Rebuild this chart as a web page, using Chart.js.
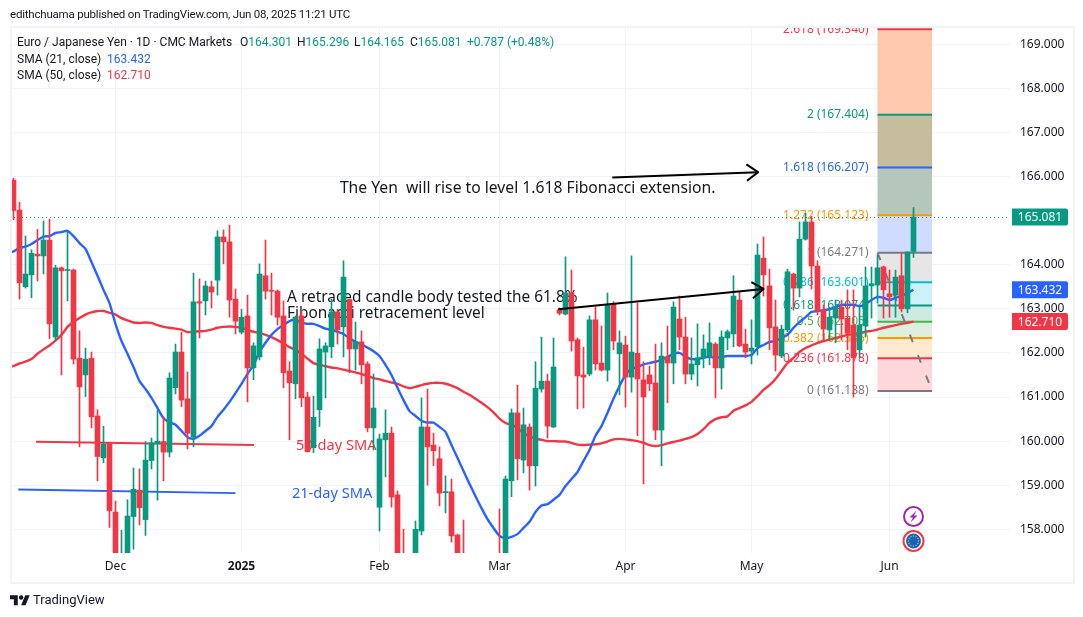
<!DOCTYPE html>
<html>
<head>
<meta charset="utf-8">
<style>
html,body{margin:0;padding:0;background:#fff;width:1083px;height:617px;overflow:hidden;}
#wrap{position:relative;width:1083px;height:617px;font-family:Roboto,sans-serif;font-size:12px;color:#131722;}
#frame{position:absolute;left:10px;top:26px;width:1061px;height:554px;border:2px solid #f0f3fa;pointer-events:none;}
canvas{position:absolute;left:0;top:0;}
.t{position:absolute;white-space:pre;line-height:16px;z-index:3;}
.g{color:#089981}.b{color:#2962ff}.r{color:#f23645}
</style>
</head>
<body>
<div id="wrap">
<canvas id="c" width="1083" height="617"></canvas>
<div id="frame"></div>
<div class="t" style="left:10px;top:6px;font-size:11.5px;letter-spacing:-0.2px;">edithchuama published on TradingView.com, Jun 08, 2025 11:21 UTC</div>
<div class="t" style="left:17px;top:34px;">Euro / Japanese Yen · 1D · CMC Markets</div>
<div class="t" style="left:240px;top:34px;">O<span class="g">164.301</span></div>
<div class="t" style="left:297px;top:34px;">H<span class="g">165.296</span></div>
<div class="t" style="left:354px;top:34px;">L<span class="g">164.165</span></div>
<div class="t" style="left:410px;top:34px;">C<span class="g">165.081</span></div>
<div class="t g" style="left:467px;top:34px;">+0.787 (+0.48%)</div>
<div class="t" style="left:17px;top:51px;">SMA (21, close)</div>
<div class="t b" style="left:107px;top:51px;">163.432</div>
<div class="t" style="left:17px;top:67px;">SMA (50, close)</div>
<div class="t r" style="left:107px;top:67px;">162.710</div>
<svg style="position:absolute;left:10px;top:593px;" width="20" height="14" viewBox="0 0 36 25"><path fill="#131722" d="M14 22H7V11H0V4h14v18zM28 22h-8l7.5-18h8L28 22z"/><circle fill="#131722" cx="20" cy="8" r="4"/></svg>
<div class="t" style="left:33px;top:592px;font-size:13px;">TradingView</div>
</div>
<script src="https://cdn.jsdelivr.net/npm/chart.js@4/dist/chart.umd.min.js"></script>
<script>
const opens=[
165.92,165.24,163.50,163.77,164.24,164.20,164.56,162.36,163.93,163.87,
163.88,161.88,161.50,161.88,160.57,159.62,159.96,158.39,157.03,157.03,
158.29,158.89,158.22,159.56,159.94,159.99,159.75,161.21,162.02,160.96,
160.09,163.16,163.18,163.50,163.65,164.63,164.52,163.22,162.47,162.84,
161.66,161.91,163.75,163.42,163.40,162.84,161.59,161.30,162.84,161.00,
159.85,160.71,162.02,162.14,162.93,162.59,163.21,162.09,162.25,161.75,
160.30,158.50,160.03,160.18,158.78,157.30,157.08,156.96,157.96,160.32,
159.91,159.60,158.83,158.85,157.87,157.30,157.10,157.25,156.90,157.20,
156.95,157.30,156.96,159.10,160.64,159.57,160.32,159.44,161.18,161.36,
160.32,162.98,162.88,163.36,162.30,161.50,161.52,162.75,161.77,161.61,
163.11,161.98,162.18,161.45,161.99,161.39,161.50,161.32,160.25,161.91,
161.77,162.77,162.36,161.52,161.73,161.89,161.93,162.20,161.66,162.34,
162.43,163.20,162.20,162.04,162.14,164.15,163.52,162.59,161.93,162.52,
163.79,163.47,164.58,164.97,163.97,162.97,162.52,162.79,163.04,162.79,
162.63,162.07,162.61,163.52,163.54,163.95,163.34,163.31,163.75,163.00,
164.301];
const highs=[
165.96,165.42,164.65,164.34,164.80,164.99,165.03,163.99,163.95,164.77,
163.90,162.50,162.11,162.02,160.71,160.34,159.96,158.64,157.98,158.67,
159.39,159.37,159.99,160.07,160.71,160.55,161.55,162.20,162.47,161.57,
163.81,163.68,163.63,163.63,164.77,164.79,164.90,163.45,162.99,163.31,
162.23,164.02,164.56,163.81,163.43,163.18,161.80,162.84,162.97,161.11,
161.02,162.32,162.23,163.22,162.99,164.09,163.22,162.70,162.50,161.80,
161.52,160.16,160.71,160.32,158.87,158.00,157.20,158.19,160.98,161.18,
160.18,159.87,159.21,159.14,157.89,158.21,157.30,157.35,157.30,157.30,
157.10,158.46,159.21,160.73,161.27,160.75,160.39,161.80,162.36,161.52,
162.34,163.02,164.18,163.88,162.34,162.13,162.84,163.04,162.61,163.36,
163.16,162.50,162.38,164.20,163.13,161.80,161.70,162.20,162.23,162.61,
163.16,163.29,162.81,162.34,162.66,162.41,162.68,162.23,162.50,162.52,
163.75,163.38,162.54,162.75,164.47,164.63,163.90,163.20,162.63,163.90,
163.81,164.97,165.17,165.10,164.09,163.09,163.04,163.20,163.20,163.43,
163.43,163.04,163.95,163.95,164.22,163.97,163.88,163.88,164.27,164.29,
165.296];
const lows=[
165.02,163.22,163.47,163.25,163.63,163.79,162.32,162.27,161.50,163.18,
161.75,159.87,161.01,160.30,159.10,159.51,158.04,156.85,156.74,156.85,
157.55,158.10,157.86,159.37,158.66,159.10,159.64,161.07,160.78,159.82,
159.87,162.34,162.86,163.02,163.31,164.02,162.81,162.43,162.43,160.89,
161.39,161.84,163.22,162.86,162.63,161.21,160.03,160.96,160.78,159.75,
159.74,160.33,160.98,161.89,162.20,161.91,161.55,161.61,161.30,160.21,
159.80,157.96,159.19,158.50,156.85,156.74,156.60,156.85,157.87,159.00,
159.44,158.53,158.37,157.71,156.74,156.70,156.80,156.90,156.70,156.85,
156.70,156.70,156.85,158.74,159.12,159.28,158.89,158.98,161.11,160.07,
160.31,162.86,162.86,162.04,160.73,160.75,161.48,161.61,161.59,161.36,
162.07,161.05,160.77,161.11,160.12,159.03,161.14,160.03,159.44,160.87,
161.30,162.07,161.30,161.39,161.25,161.66,161.73,160.98,161.18,162.07,
162.14,162.14,161.89,161.75,161.95,163.29,162.07,161.59,161.89,162.48,
162.97,163.27,164.56,163.45,162.86,162.25,162.29,162.23,162.29,162.07,
161.00,161.89,162.36,162.79,163.13,162.79,162.81,162.81,162.93,162.91,
164.165];
const closes=[
165.23,163.59,163.79,164.26,164.20,164.56,162.66,163.93,163.86,163.88,
161.86,161.23,161.86,160.55,159.65,159.93,158.42,157.08,157.35,158.30,
158.91,158.49,159.57,159.96,160.00,159.75,161.43,162.02,160.93,160.18,
163.16,163.13,163.52,163.38,164.63,164.52,163.20,162.72,162.81,161.66,
162.16,163.79,163.40,163.40,162.81,161.55,161.32,162.81,160.98,159.76,
160.54,162.09,162.16,162.93,162.52,163.72,162.09,162.25,161.73,160.30,
160.75,160.05,160.18,158.73,157.08,156.96,156.85,158.00,160.32,159.87,
159.78,158.82,158.85,157.85,156.96,156.96,156.95,156.95,157.15,157.00,
157.20,156.96,159.14,160.64,159.60,160.37,159.44,161.20,161.36,160.34,
161.68,162.90,163.36,162.27,161.48,161.45,162.75,161.75,161.61,163.09,
162.27,162.23,161.45,162.02,161.41,161.00,161.30,160.25,161.93,161.77,
163.04,162.36,161.52,161.75,161.89,162.09,162.23,161.66,162.36,162.48,
163.29,162.16,162.02,162.11,164.22,163.77,162.57,161.95,162.54,163.84,
163.47,164.58,164.97,163.97,162.95,162.54,162.81,163.04,162.77,162.45,
161.89,162.63,163.52,163.57,163.93,163.43,163.27,163.72,163.00,164.29,
165.081];
const sma21=[
164.30,164.38,164.41,164.47,164.56,164.64,164.65,164.72,164.74,164.77,
164.65,164.49,164.36,164.06,163.75,163.43,163.13,162.66,162.27,161.98,
161.68,161.36,161.18,160.98,160.75,160.52,160.43,160.37,160.23,160.09,
160.05,160.12,160.23,160.34,160.55,160.71,160.89,161.09,161.30,161.52,
161.73,162.02,162.23,162.41,162.54,162.63,162.72,162.75,162.68,162.66,
162.66,162.61,162.55,162.52,162.48,162.43,162.33,162.25,162.19,162.12,
162.04,161.93,161.73,161.50,161.21,160.93,160.68,160.57,160.46,160.42,
160.42,160.32,160.21,159.91,159.62,159.32,159.03,158.75,158.48,158.23,
158.03,157.85,157.80,157.83,157.89,158.03,158.17,158.39,158.54,158.57,
158.67,158.78,158.98,159.14,159.30,159.55,159.80,160.12,160.34,160.64,
160.96,161.25,161.50,161.64,161.68,161.74,161.77,161.80,161.84,161.91,
161.98,162.00,161.91,161.86,161.86,161.89,161.91,161.89,161.91,161.93,
161.93,161.93,161.93,161.95,162.11,162.18,162.25,162.27,162.34,162.41,
162.57,162.70,162.81,162.93,162.95,162.97,162.99,163.04,163.09,163.09,
163.09,163.06,163.11,163.20,163.27,163.25,163.20,163.25,163.29,163.36,
163.432];
const sma50=[
161.70,161.76,161.80,161.86,161.98,162.08,162.17,162.28,162.41,162.59,
162.70,162.79,162.87,162.92,162.95,162.95,162.91,162.87,162.79,162.74,
162.69,162.68,162.69,162.68,162.63,162.59,162.57,162.55,162.53,162.47,
162.48,162.49,162.50,162.53,162.57,162.59,162.60,162.59,162.57,162.52,
162.48,162.45,162.41,162.36,162.29,162.21,162.13,162.07,161.98,161.87,
161.77,161.73,161.70,161.67,161.65,161.62,161.59,161.56,161.52,161.48,
161.43,161.40,161.36,161.33,161.30,161.24,161.20,161.23,161.27,161.30,
161.32,161.32,161.30,161.26,161.20,161.12,161.05,160.96,160.87,160.77,
160.65,160.51,160.41,160.37,160.30,160.18,160.11,160.06,160.03,160.00,
160.00,159.99,159.99,159.96,159.92,159.91,159.92,159.93,159.95,159.99,
160.04,160.05,160.04,160.02,160.00,159.96,159.91,159.89,159.91,159.95,
159.98,160.01,160.05,160.09,160.16,160.27,160.41,160.50,160.54,160.56,
160.69,160.75,160.81,160.89,161.02,161.16,161.27,161.41,161.59,161.77,
161.89,162.02,162.11,162.17,162.23,162.27,162.30,162.34,162.37,162.41,
162.43,162.45,162.48,162.50,162.53,162.57,162.60,162.63,162.66,162.68,
162.710];
const sma21Before=164.26, sma50Before=161.67;
const monthTickIdx=[17,38,61,81,102,123,146];
const monthLabels=["Dec","2025","Feb","Mar","Apr","May","Jun"];
const priceTicks=[158,159,160,161,162,163,164,165,166,167,168,169];
const fibRatios=["2.618","2","1.618","1.272","1","0.786","0.618","0.5","0.382","0.236","0"];
const fibPrices=[169.340,167.404,166.207,165.123,164.271,163.601,163.074,162.705,162.336,161.878,161.138];
const fibLineColors=["#f23645","#089981","#2962ff","#ff9800","#787b86","#00bcd4","#089981","#4caf50","#ff9800","#f23645","#787b86"];
const fibFillColors=["#ffc9ae","#c6bd9e","#b5c6bc","#d0dcff","#e6e6e6","#ccf2f7","#cfe9e3","#dcf0dd","#ffeacf","#fdd7da"];
const fibStartIdx=144, fibEndIdx=153.1;
const trend50=[[3.75,159.985],[40.1,159.91]];
const trend21=[[0.8,158.90],[37,158.82]];
const arrows=[[99.8,165.98,124.1,166.10],[90.8,162.99,125,163.45]];
const notes=[
 ["The Yen  will rise to level 1.618 Fibonacci extension.",54.4,165.63,"#131722",15.7],
 ["A retraced candle body tested the 61.8%",45.6,163.16,"#131722",15.4],
 ["Fibonacci retracement level",45.6,162.80,"#131722",15.4],
 ["50-day SMA",47.1,159.80,"#f23645",14.6],
 ["21-day SMA",46.4,158.70,"#2962ff",14.6]
];
const priceTags=[[165.081,"#089981"],[163.432,"#2962ff"],[162.710,"#f23645"]];

const UP="#089981",DOWN="#f23645",FONT='"Noto Sans", sans-serif';
const idx=opens.map((_,i)=>i);
const col=idx.map(i=>closes[i]>=opens[i]?UP:DOWN);

const decor={
 id:"decor",
 beforeDatasetsDraw(ch){
  const c=ch.ctx,x=ch.scales.x,y=ch.scales.y,a=ch.chartArea;
  c.save();
  c.beginPath();c.rect(a.left,a.top,a.right-a.left,a.bottom-a.top);c.clip();
  const xl=x.getPixelForValue(fibStartIdx),xr=x.getPixelForValue(fibEndIdx);
  fibFillColors.forEach((f,i)=>{
    const t=y.getPixelForValue(fibPrices[i]),b=y.getPixelForValue(fibPrices[i+1]);
    c.fillStyle=f;c.fillRect(xl,t,xr-xl,b-t);
  });
  c.font="12px "+FONT;c.textAlign="right";c.textBaseline="middle";
  fibPrices.forEach((p,i)=>{
    const py=y.getPixelForValue(p);
    c.strokeStyle=fibLineColors[i];c.lineWidth=2;
    c.beginPath();c.moveTo(xl,py);c.lineTo(xr,py);c.stroke();
    c.fillStyle=fibLineColors[i];
    c.fillText(fibRatios[i]+" ("+p.toFixed(3)+")",xl-9,py);
  });
  c.strokeStyle="#787b86";c.lineWidth=2;c.setLineDash([8,14]);
  c.beginPath();c.moveTo(xl,y.getPixelForValue(fibPrices[4]));c.lineTo(xr,y.getPixelForValue(fibPrices[10]));c.stroke();
  c.setLineDash([]);
  c.textAlign="left";c.textBaseline="alphabetic";
  notes.forEach(n=>{c.font=n[4]+"px "+FONT;c.fillStyle=n[3];c.fillText(n[0],x.getPixelForValue(n[1]),y.getPixelForValue(n[2]));});
  c.restore();
 },
 afterDatasetsDraw(ch){
  const c=ch.ctx,x=ch.scales.x,y=ch.scales.y,a=ch.chartArea;
  c.save();
  const py=y.getPixelForValue(closes[closes.length-1]);
  c.strokeStyle=UP;c.lineWidth=1;c.setLineDash([1,3]);
  c.beginPath();c.moveTo(a.left,Math.round(py)+.5);c.lineTo(a.right,Math.round(py)+.5);c.stroke();
  c.setLineDash([]);
  c.strokeStyle="#000";c.lineWidth=2;c.lineJoin="round";
  arrows.forEach(r=>{
    const x0=x.getPixelForValue(r[0]),y0=y.getPixelForValue(r[1]),x1=x.getPixelForValue(r[2]),y1=y.getPixelForValue(r[3]);
    c.beginPath();c.moveTo(x0,y0);c.lineTo(x1,y1);c.stroke();
    const ang=Math.atan2(y1-y0,x1-x0);
    c.beginPath();
    c.moveTo(x1-14*Math.cos(ang-.62),y1-14*Math.sin(ang-.62));
    c.lineTo(x1,y1);
    c.lineTo(x1-14*Math.cos(ang+.62),y1-14*Math.sin(ang+.62));
    c.stroke();
  });
  const ex=x.getPixelForValue(150);
  c.lineWidth=2;c.strokeStyle="#9c27b0";c.fillStyle="#fff";
  c.beginPath();c.arc(ex,516.5,9.5,0,7);c.fill();c.stroke();
  c.fillStyle="#9c27b0";c.beginPath();
  c.moveTo(ex+3,510.5);c.lineTo(ex-4,517.5);c.lineTo(ex-.5,517.5);c.lineTo(ex-3,522.5);c.lineTo(ex+4,515.5);c.lineTo(ex+.5,515.5);c.closePath();c.fill();
  c.strokeStyle="#f23645";c.fillStyle="#fff";
  c.beginPath();c.arc(ex,541,10,0,7);c.fill();c.stroke();
  c.fillStyle="#1565c0";c.beginPath();c.arc(ex,541,7.5,0,7);c.fill();
  c.fillStyle="#e0c020";
  for(let k=0;k<12;k++){c.beginPath();c.arc(ex+5*Math.cos(k*Math.PI/6),541+5*Math.sin(k*Math.PI/6),.7,0,7);c.fill();}
  c.textAlign="center";c.textBaseline="middle";c.font="12px "+FONT;
  priceTags.forEach(t=>{
    const p=y.getPixelForValue(t[0]);
    c.fillStyle=t[1];c.beginPath();c.roundRect(1012,p-8.5,56,17,[0,2,2,0]);c.fill();
    c.fillStyle="#fff";c.fillText(t[0].toFixed(3),1040,p+.5);
  });
  c.restore();
 }
};

new Chart(document.getElementById("c"),{
 data:{datasets:[
  {type:"bar",label:"Body",order:1,grouped:false,barThickness:5,minBarLength:1,borderWidth:0,borderSkipped:false,
   data:idx.map(i=>({x:i,y:[opens[i],closes[i]]})),backgroundColor:col},
  {type:"bar",label:"Wick",order:2,grouped:false,barThickness:1,borderWidth:0,borderSkipped:false,
   data:idx.map(i=>({x:i,y:[lows[i],highs[i]]})),backgroundColor:col},
  {type:"line",label:"SMA 21",order:3,data:[{x:-1,y:sma21Before}].concat(idx.map(i=>({x:i,y:sma21[i]}))),borderColor:"#2962ff",borderWidth:2.4,pointRadius:0,tension:0.2},
  {type:"line",label:"SMA 50",order:4,data:[{x:-1,y:sma50Before}].concat(idx.map(i=>({x:i,y:sma50[i]}))),borderColor:"#f23645",borderWidth:2.4,pointRadius:0,tension:0.2},
  {type:"line",label:"50-day trend",order:5,data:trend50.map(p=>({x:p[0],y:p[1]})),borderColor:"#f23645",borderWidth:2,pointRadius:0},
  {type:"line",label:"21-day trend",order:6,data:trend21.map(p=>({x:p[0],y:p[1]})),borderColor:"#2962ff",borderWidth:2,pointRadius:0}
 ]},
 options:{
  responsive:false,animation:false,devicePixelRatio:1,
  layout:{padding:{left:10,right:10,top:27,bottom:36}},
  plugins:{legend:{display:false},tooltip:{enabled:false},title:{display:false}},
  scales:{
   x:{type:"linear",offset:false,min:-0.58333,max:166.08333,
      afterFit(s){s.height=28;},
      afterBuildTicks(s){s.ticks=monthTickIdx.map(v=>({value:v}));},
      border:{display:false},
      grid:{offset:false,color:"#f0f3fa",drawTicks:false,lineWidth:1},
      ticks:{autoSkip:false,maxRotation:0,padding:6,color:"#131722",
        font:(ctx)=>({family:FONT,size:12,weight:ctx.tick&&ctx.tick.value===38?"bold":"normal"}),
        callback:(v)=>monthLabels[monthTickIdx.indexOf(v)]}},
   y:{type:"linear",position:"right",min:157.462,max:169.392,
      afterFit(s){s.width=63;},
      afterBuildTicks(s){s.ticks=priceTicks.map(v=>({value:v}));},
      border:{display:false},
      grid:{color:"#f0f3fa",drawTicks:false,lineWidth:1},
      ticks:{autoSkip:false,padding:10,color:"#131722",font:{family:FONT,size:12},
        callback:(v)=>v.toFixed(3)}}
  }
 },
 plugins:[decor]
});
</script>
</body>
</html>
